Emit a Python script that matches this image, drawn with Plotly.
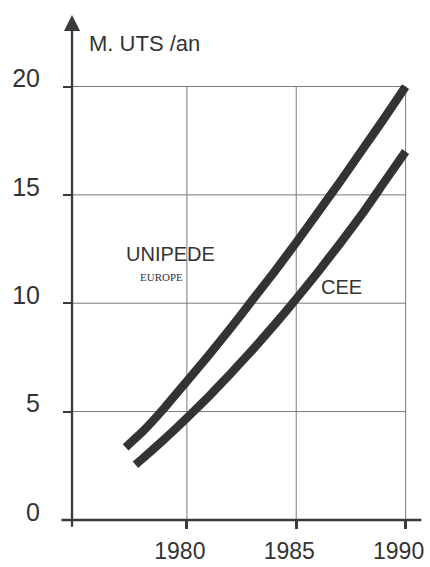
import plotly.graph_objects as go

# Data
unipede_year = [1977.2, 1978, 1979, 1980, 1981, 1982, 1983, 1984, 1985, 1986, 1987, 1988, 1989, 1990]
unipede_val = [3.35, 4.1, 5.2, 6.4, 7.6, 8.85, 10.15, 11.45, 12.8, 14.2, 15.6, 17.05, 18.5, 20.0]
cee_year = [1977.65, 1978, 1979, 1980, 1981, 1982, 1983, 1984, 1985, 1986, 1987, 1988, 1989, 1990]
cee_val = [2.55, 2.85, 3.75, 4.7, 5.7, 6.75, 7.85, 9.0, 10.2, 11.45, 12.75, 14.1, 15.55, 17.0]

x_ticks = [1980, 1985, 1990]
x_ticklabels = ["1980", "1985", "1990"]
y_ticks = [0, 5, 10, 15, 20]
y_ticklabels = ["0", "5", "10", "15", "20"]

y_title = "M. UTS /an"

X_MIN, X_MAX = 1974.2, 1990.75
Y_MIN, Y_MAX = -1.25, 23.3
X_AXIS_AT = 1974.75  # where the y axis stands

INK = "#333333"
GRID = "#7a7a7a"
FONT = "Liberation Sans, Arial, sans-serif"

fig = go.Figure()

for xs, ys, name in [(unipede_year, unipede_val, "UNIPEDE"), (cee_year, cee_val, "CEE")]:
    fig.add_trace(go.Scatter(
        x=xs, y=ys, mode="lines", name=name,
        line=dict(color=INK, width=8.5, shape="spline", smoothing=0.5),
        showlegend=False, hoverinfo="skip",
    ))

shapes = []
# horizontal grid lines
for v in y_ticks[1:]:
    shapes.append(dict(type="line", xref="x", yref="y", x0=X_AXIS_AT, x1=x_ticks[-1], y0=v, y1=v,
                       line=dict(color=GRID, width=1), layer="below"))
# vertical grid lines
for v in x_ticks:
    shapes.append(dict(type="line", xref="x", yref="y", x0=v, x1=v, y0=0, y1=y_ticks[-1],
                       line=dict(color=GRID, width=1), layer="below"))
# x axis line
shapes.append(dict(type="line", xref="x", yref="y", x0=1974.27, x1=1990.72, y0=0, y1=0,
                   line=dict(color="#3a3a3a", width=2.5)))

annotations = [
    # y axis with arrow
    dict(x=X_AXIS_AT, y=Y_MAX, ax=X_AXIS_AT, ay=-0.38, xref="x", yref="y", axref="x", ayref="y",
         text="", showarrow=True, arrowhead=2, arrowsize=1.4, arrowwidth=2.3, arrowcolor="#3a3a3a"),
    dict(x=1975.45, y=22.0, xref="x", yref="y", text=y_title, showarrow=False, xanchor="left",
         yanchor="middle", font=dict(family=FONT, size=22, color=INK)),
    dict(x=1977.13, y=12.25, xref="x", yref="y", text="UNIPEDE", showarrow=False, xanchor="left",
         yanchor="middle", font=dict(family=FONT, size=20, color=INK)),
    dict(x=1977.75, y=11.2, xref="x", yref="y", text="EUROPE", showarrow=False, xanchor="left",
         yanchor="middle", font=dict(family="Liberation Serif, serif", size=11, color=INK)),
    dict(x=1986.03, y=10.75, xref="x", yref="y", text="CEE", showarrow=False, xanchor="left",
         yanchor="middle", font=dict(family=FONT, size=20, color=INK)),
]

fig.update_layout(
    width=430, height=567,
    margin=dict(l=60, r=8, t=15, b=20, autoexpand=False),
    paper_bgcolor="white", plot_bgcolor="white",
    shapes=shapes, annotations=annotations,
    xaxis=dict(range=[X_MIN, X_MAX], tickvals=x_ticks, ticktext=x_ticklabels,
               showgrid=False, zeroline=False, showline=False, automargin=False,
               ticks="outside", ticklen=8, tickwidth=2.5, tickcolor="#3a3a3a",
               anchor="free", position=(0 - Y_MIN) / (Y_MAX - Y_MIN),
               ticklabelstandoff=2, ticklabelshift=-7,
               tickfont=dict(family=FONT, size=23, color=INK), fixedrange=True),
    yaxis=dict(range=[Y_MIN, Y_MAX], tickvals=y_ticks, ticktext=y_ticklabels,
               showgrid=False, zeroline=False, showline=False, automargin=False,
               ticks="outside", ticklen=9, tickwidth=2, tickcolor="#3a3a3a",
               anchor="free", position=(X_AXIS_AT - X_MIN) / (X_MAX - X_MIN),
               ticklabelstandoff=18, ticklabelshift=-8,
               tickfont=dict(family=FONT, size=25, color=INK), fixedrange=True),
)

fig.write_html(
    "out.html",
    config={"displayModeBar": False},
    post_script="document.body.style.margin='0';document.body.style.overflow='hidden';",
)
